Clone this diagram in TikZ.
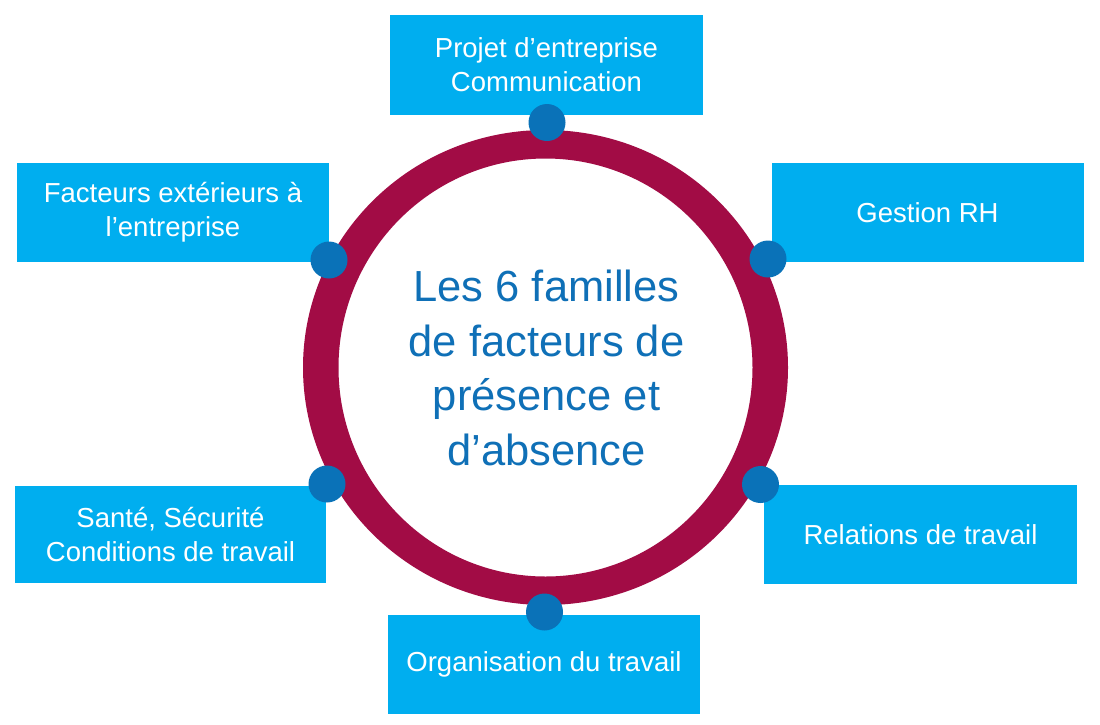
\documentclass[tikz,border=0pt]{standalone}
\usepackage{fontspec}
\setmainfont{Liberation Sans}
\definecolor{boxcyan}{HTML}{00AEEF}
\definecolor{dotblue}{HTML}{0A72B8}
\definecolor{ringred}{HTML}{A20C45}
\definecolor{titleblue}{HTML}{0F70B7}
\begin{document}
\begin{tikzpicture}[x=1pt,y=-1pt,
  famille/.style={fill=boxcyan, draw=none, text=white, align=center,
    font=\fontsize{27.5}{34}\selectfont, inner sep=0pt},
  pastille/.style={circle, fill=dotblue, draw=none, minimum size=37pt, inner sep=0pt}]
\useasboundingbox (0,0) rectangle (1100,724);
\fill[white] (0,0) rectangle (1100,724);
% boxes
\node[famille, minimum width=313pt, minimum height=100pt] (b1) at (546.5,65) {Projet d’entreprise\\Communication};
\node[famille, minimum width=312pt, minimum height=99pt] (b2) at (927.5,212.5) {Gestion RH};
\node[famille, minimum width=313pt, minimum height=99pt] (b3) at (920.5,534.5) {Relations de travail};
\node[famille, minimum width=312pt, minimum height=99pt] (b4) at (544,664.5) {Organisation du travail};
\node[famille, minimum width=311pt, minimum height=97pt] (b5) at (170.5,534.5) {Santé, Sécurité\\Conditions de travail};
\node[famille, minimum width=312pt, minimum height=99pt] (b6) at (173,212.5) {Facteurs extérieurs à\\l’entreprise};
% ring
\fill[ringred, even odd rule] (545.5,367.5) ellipse [x radius=242.5, y radius=237.5]
  (545.5,367.5) ellipse [x radius=207, y radius=209];
\node[font=\fontsize{43.5}{54.5}\selectfont, text=titleblue, align=center, inner sep=0pt] (centre) at (546.5,368) {Les 6 familles\\de facteurs de\\présence et\\d’absence};
% dots
\node[pastille] (d1) at (547,122.5) {};
\node[pastille] (d2) at (768,259) {};
\node[pastille] (d3) at (760.5,484.5) {};
\node[pastille] (d4) at (544.5,612) {};
\node[pastille] (d5) at (327,484) {};
\node[pastille] (d6) at (329,260) {};
\end{tikzpicture}
\end{document}
